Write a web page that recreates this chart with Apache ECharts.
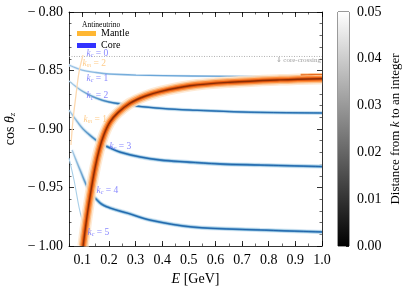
<!DOCTYPE html>
<html><head><meta charset="utf-8">
<script src="https://cdn.jsdelivr.net/npm/echarts@6/dist/echarts.min.js"></script>
<style>html,body{margin:0;padding:0;background:#fff}#c{width:407px;height:294px}</style>
</head><body><div id="c"></div>
<script>
// ---- data ----
const mantleE   = [0.103,0.118,0.133,0.148,0.163,0.181,0.204,0.234,0.279,0.335,0.392,0.504,0.655,0.842,1.0];
const mantleCos = [-1.0,-0.974,-0.952,-0.933,-0.918,-0.905,-0.894,-0.886,-0.878,-0.872,-0.868,-0.863,-0.860,-0.858,-0.857];
const mantleUpE   = [0.92,0.96,1.0];
const mantleUpCos = [-0.8537,-0.8535,-0.8534];
const km2E   = [0.0575,0.0650,0.0763,0.0876,0.1026];
const km2Cos = [-0.9137,-0.8923,-0.8709,-0.8513,-0.8368];
const kc1E   = [0.05,0.0988,0.1514,0.2002,0.3016,0.5044,1.0];
const kc1Cos = [-0.8453,-0.8496,-0.8517,-0.8530,-0.8539,-0.8547,-0.8556];
const kc2E   = [0.05,0.0988,0.1514,0.2002,0.3016,0.4030,0.5044,0.7034,1.0];
const kc2Cos = [-0.8590,-0.8675,-0.8735,-0.8769,-0.8803,-0.8825,-0.8838,-0.8855,-0.8863];
const kc3E   = [0.05,0.0763,0.1026,0.1364,0.1664,0.2040,0.2415,0.3166,0.3917,0.4931,0.6170,0.7672,1.0];
const kc3Cos = [-0.8838,-0.8923,-0.9000,-0.9068,-0.9120,-0.9162,-0.9197,-0.9239,-0.9265,-0.9282,-0.9299,-0.9308,-0.9321];
const kc4E   = [0.0613,0.0913,0.1251,0.1664,0.2040,0.2678,0.3542,0.5156,0.7672,1.0];
const kc4Cos = [-0.9179,-0.9350,-0.9521,-0.9632,-0.9675,-0.9718,-0.9778,-0.9838,-0.9863,-0.9880];
const kc5E   = [0.05,0.0688,0.0876,0.1063,0.1213];
const kc5Cos = [-0.9248,-0.9436,-0.9667,-0.9846,-1.0];
const coreCrossCos = -0.838;
const labelE    = [0.1176,0.1026,0.1176,0.1176,0.1063,0.204,0.1551,0.1213];
const labelCos  = [-0.8359,-0.8444,-0.8573,-0.8722,-0.8923,-0.9154,-0.9530,-0.9889];
const labelKind = ['c','m','c','c','m','c','c','c'];
const labelK    = ['0','2','1','2','1','3','4','5'];
const xTickLabels = [0.1,0.2,0.3,0.4,0.5,0.6,0.7,0.8,0.9,1.0];
const colorbarMax = 0.05;

const pts = (E, C) => E.map((e, i) => [e, C[i]]);
const FONT = 'Liberation Serif';

function fade(rgb, a0, a1, off) {
  return new echarts.graphic.LinearGradient(0, 0, 1, 0, [
    { offset: 0, color: 'rgba(' + rgb + ',' + a0 + ')' },
    { offset: off, color: 'rgba(' + rgb + ',' + a1 + ')' },
    { offset: 1, color: 'rgba(' + rgb + ',' + a1 + ')' }
  ]);
}
function band(E, C, layers) {
  return layers.map(l => ({
    type: 'line', xAxisIndex: 0, yAxisIndex: 0, data: pts(E, C), showSymbol: false, symbol: 'none',
    smooth: 0.35, silent: true, z: l.z || 2, clip: true,
    lineStyle: { width: l.w, color: l.c, opacity: l.o == null ? 1 : l.o, cap: 'butt' }
  }));
}
const orangeLayers = [
  { w: 11.5, c: '#fee6ce', o: 0.85, z: 3 }, { w: 8.5, c: '#fdc08a', o: 0.9, z: 3 },
  { w: 6, c: '#fd8d3c', z: 3 }, { w: 3.4, c: '#e0570f', z: 3 }, { w: 1.4, c: '#8c2d04', z: 3 }
];
function blueLayers(off, s) {
  return [
    { w: 1.3, c: '#b9d8ee' },
    { w: 4.5 * s, c: fade('222,235,247', 0, 1, off) },
    { w: 3.0 * s, c: fade('158,202,225', 0, 1, off) },
    { w: 1.8 * s, c: fade('66,140,198', 0, 1, off) },
    { w: 0.9 * s, c: fade('31,95,165', 0, 1, off * 1.3) }
  ];
}

const series = [].concat(
  band(kc1E, kc1Cos, [{ w: 2.6, c: '#e3eef8' }, { w: 1.3, c: fade('106,166,216', 0.6, 1, 0.3) }]),
  band(kc2E, kc2Cos, blueLayers(0.2, 0.85)),
  band(kc3E, kc3Cos, blueLayers(0.15, 1.0)),
  band(kc4E, kc4Cos, blueLayers(0.12, 1.0)),
  band(kc5E, kc5Cos, [{ w: 1.1, c: '#a9cfe8' }]),
  band(km2E, km2Cos, [{ w: 1.3, c: '#fdd9b0' }]),
  band(mantleE, mantleCos, orangeLayers),
  band(mantleUpE, mantleUpCos, [{ w: 2.6, c: '#fdc08a', z: 3 }, { w: 1.1, c: '#e8681a', z: 3 }]),
  [{
    type: 'line', xAxisIndex: 0, yAxisIndex: 0, silent: true, showSymbol: false, symbol: 'none', z: 1,
    data: [[0.05, coreCrossCos], [1.0, coreCrossCos]],
    lineStyle: { type: [1, 1.5], width: 1, color: '#b0b0b0' }
  }],
  [{
    type: 'scatter', xAxisIndex: 0, yAxisIndex: 0, symbolSize: 1, itemStyle: { color: 'rgba(0,0,0,0)' }, z: 10, silent: true,
    data: labelE.map((e, i) => {
      const col = labelKind[i] === 'c' ? '#6a6aff' : '#ffbe6a';
      return {
        value: [e, labelCos[i]],
        label: {
          show: true, position: [0, 0], align: 'left', verticalAlign: 'middle',
          formatter: '{i|k}{s|' + labelKind[i] + '}{n| = ' + labelK[i] + '}',
          rich: {
            i: { fontFamily: FONT, fontStyle: 'italic', fontSize: 9.5, color: col },
            s: { fontFamily: FONT, fontStyle: 'italic', fontSize: 6, color: col, padding: [4, 0, 0, 0] },
            n: { fontFamily: FONT, fontSize: 9.5, color: col }
          }
        }
      };
    })
  }],
  [
    { type: 'scatter', name: 'Mantle', xAxisIndex: 0, yAxisIndex: 0, data: [], itemStyle: { color: '#ffa500' } },
    { type: 'scatter', name: 'Core', xAxisIndex: 0, yAxisIndex: 0, data: [], itemStyle: { color: '#0000ff' } }
  ],
  [{
    type: 'bar', xAxisIndex: 4, yAxisIndex: 2, data: [colorbarMax], barWidth: '100%', silent: true,
    itemStyle: { color: new echarts.graphic.LinearGradient(0, 1, 0, 0, [{ offset: 0, color: '#000' }, { offset: 1, color: '#fff' }]) }
  }]
);

const axLine = { show: true, lineStyle: { color: '#000', width: 0.8 } };
const tickMinor = { show: true, inside: true, length: 2.5, lineStyle: { color: '#000', width: 0.6 } };
const tickMajor = { show: true, inside: true, length: 5, lineStyle: { color: '#000', width: 0.8 } };
const lab = { fontFamily: FONT, fontSize: 14, color: '#000' };

const baseX = { type: 'value', gridIndex: 0, min: 0.05, max: 1.0, splitLine: { show: false } };
const chart = echarts.init(document.getElementById('c'), null, { renderer: 'canvas' });
chart.setOption({
  animation: false,
  grid: [
    { left: 69, right: 85, top: 12, bottom: 48, containLabel: false, outerBoundsMode: 'none' },
    { left: 338, width: 11, top: 12, bottom: 48, show: true, borderColor: '#000', borderWidth: 0.8, containLabel: false, outerBoundsMode: 'none' }
  ],
  legend: {
    data: [{ name: 'Mantle', icon: 'rect' }, { name: 'Core', icon: 'rect' }],
    orient: 'vertical', left: 77, top: 28.5, padding: 0, itemWidth: 19, itemHeight: 5, itemGap: 2,
    textStyle: { fontFamily: FONT, fontSize: 10, color: '#000', lineHeight: 10 }
  },
  graphic: [
    { type: 'text', left: 82, top: 21, style: { text: 'Antineutrino', fontFamily: FONT, fontSize: 7.5, fill: '#000' } },
    { type: 'text', right: 86, top: 56.5, style: { text: '⇓ core-crossing', fontFamily: FONT, fontSize: 7, fill: '#a0a0a0' } }
  ],
  xAxis: [
    Object.assign({}, baseX, { position: 'bottom', interval: 0.05, axisLine: axLine, axisTick: tickMinor,
      axisLabel: Object.assign({}, lab, { margin: 7, formatter: v => (Math.round(v * 100) % 10 === 0 ? v.toFixed(1) : '') }),
      name: '{i|E} [GeV]', nameLocation: 'middle', nameGap: 26,
      nameTextStyle: { fontFamily: FONT, fontSize: 14, color: '#000', rich: { i: { fontFamily: FONT, fontStyle: 'italic', fontSize: 14 } } } }),
    Object.assign({}, baseX, { position: 'bottom', axisLine: { show: false }, axisTick: Object.assign({}, tickMajor, { customValues: xTickLabels }), axisLabel: { show: false } }),
    Object.assign({}, baseX, { position: 'top', interval: 0.05, axisLine: axLine, axisTick: tickMinor, axisLabel: { show: false } }),
    Object.assign({}, baseX, { position: 'top', axisLine: { show: false }, axisTick: Object.assign({}, tickMajor, { customValues: xTickLabels }), axisLabel: { show: false } }),
    { type: 'category', gridIndex: 1, data: [''], show: false }
  ],
  yAxis: [
    { type: 'value', gridIndex: 0, position: 'left', min: -1.0, max: -0.8, interval: 0.05, splitLine: { show: false },
      axisLine: axLine, axisTick: tickMajor, minorTick: Object.assign({}, tickMinor, { splitNumber: 5 }), minorSplitLine: { show: false },
      axisLabel: Object.assign({}, lab, { margin: 6, formatter: v => (v < 0 ? '−\u2009' : '') + Math.abs(v).toFixed(2) }),
      name: '{t|cos }{i|θ}{s|z}', nameLocation: 'middle', nameGap: 50, nameRotate: 90,
      nameTextStyle: { fontFamily: FONT, fontSize: 14, color: '#000', rich: {
        t: { fontFamily: FONT, fontSize: 14 }, i: { fontFamily: FONT, fontStyle: 'italic', fontSize: 14 },
        s: { fontFamily: FONT, fontStyle: 'italic', fontSize: 9, padding: [5, 0, 0, 0] } } } },
    { type: 'value', gridIndex: 0, position: 'right', min: -1.0, max: -0.8, interval: 0.05, splitLine: { show: false },
      axisLine: axLine, axisTick: tickMajor, minorTick: Object.assign({}, tickMinor, { splitNumber: 5 }), axisLabel: { show: false } },
    { type: 'value', gridIndex: 1, position: 'right', min: 0, max: colorbarMax, interval: 0.01, splitLine: { show: false },
      axisLine: { show: false }, axisTick: { show: true, inside: true, length: 3, lineStyle: { color: '#000', width: 0.8 } },
      axisLabel: Object.assign({}, lab, { margin: 8, formatter: v => v.toFixed(2) }),
      name: 'Distance from {i|k} to an integer', nameLocation: 'middle', nameGap: 40, nameRotate: 90,
      nameTextStyle: { fontFamily: FONT, fontSize: 13, color: '#000', rich: { i: { fontFamily: FONT, fontStyle: 'italic', fontSize: 13 } } } }
  ],
  series: series
});
</script></body></html>
